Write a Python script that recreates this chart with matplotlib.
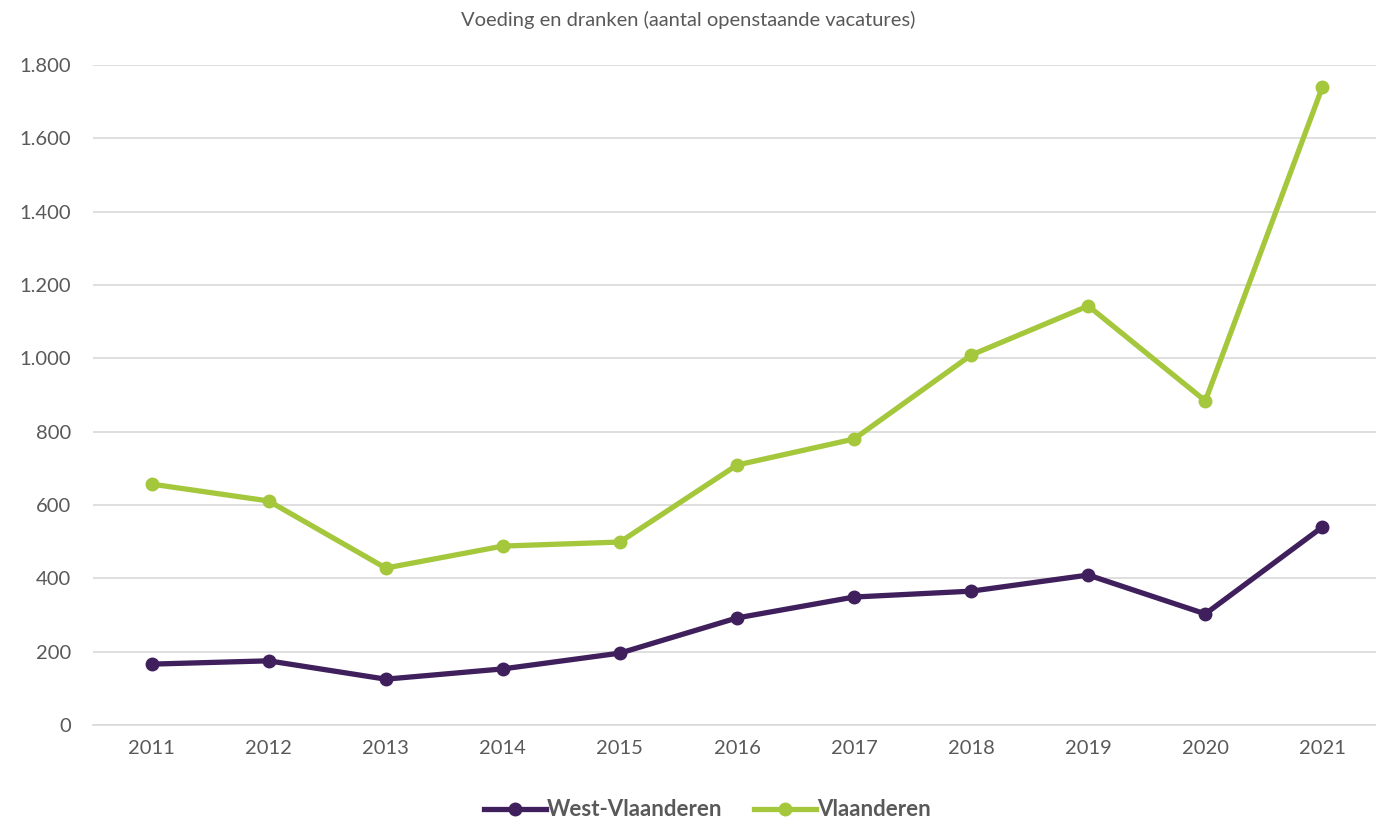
import numpy as np
import matplotlib.pyplot as plt

plt.rcParams['font.family'] = ['Lato', 'DejaVu Sans']

jaren = ['2011', '2012', '2013', '2014', '2015', '2016', '2017', '2018', '2019', '2020', '2021']
west_vlaanderen = [166, 175, 125, 153, 196, 292, 349, 365, 409, 303, 540]
vlaanderen = [657, 611, 428, 488, 499, 709, 780, 1009, 1143, 884, 1740]

paars = '#3f1f5c'
groen = '#a5c73c'
grijs = '#595959'

fig = plt.figure(figsize=(13.76, 8.18), dpi=100)
ax = fig.add_axes([0.0676, 0.1137, 0.936, 0.8068])

x = np.arange(len(jaren))
ax.plot(x, west_vlaanderen, color=paars, lw=3.8, marker='o', ms=9, label='West-Vlaanderen')
ax.plot(x, vlaanderen, color=groen, lw=3.8, marker='o', ms=9, label='Vlaanderen')

ax.set_xlim(-0.5, len(jaren) - 0.5)
ax.set_ylim(0, 1800)
ax.set_yticks(range(0, 1801, 200))
ax.set_yticklabels([f'{v:,}'.replace(',', '.') for v in range(0, 1801, 200)])
ax.set_xticks(x)
ax.set_xticklabels(jaren)
ax.tick_params(colors=grijs, labelsize=14.5, length=0)
ax.tick_params(axis='x', pad=11)
ax.tick_params(axis='y', pad=16)
ax.grid(axis='y', color='#d9d9d9', lw=1.2)
ax.set_axisbelow(True)
for s in ['left', 'right', 'top']:
    ax.spines[s].set_visible(False)
ax.spines['bottom'].set_color('#d9d9d9')
ax.spines['bottom'].set_linewidth(1.2)

fig.text(0.5, 0.975, 'Voeding en dranken (aantal openstaande vacatures)', ha='center', va='center',
         color=grijs, fontsize=14.5)

leg = fig.legend(loc='center', bbox_to_anchor=(0.514, 0.01), ncol=2, frameon=False,
                 prop={'weight': 'bold', 'size': 16}, handlelength=2.8, columnspacing=1.4, handletextpad=0.05)
for t in leg.get_texts():
    t.set_color(grijs)

fig.savefig('out.png', dpi=100)
